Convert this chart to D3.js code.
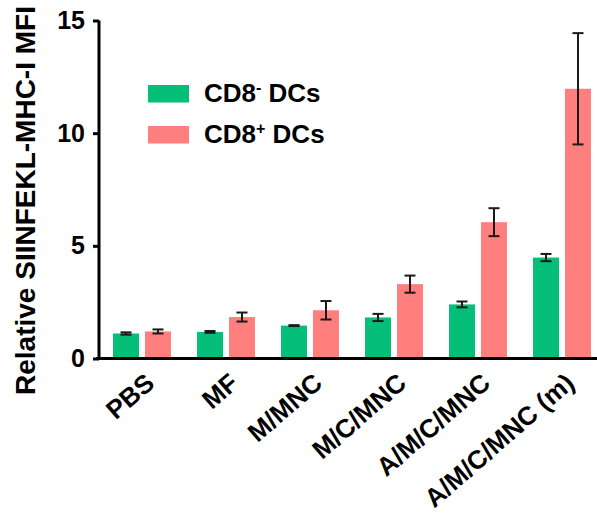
<!DOCTYPE html>
<html>
<head>
<meta charset="utf-8">
<script src="https://cdn.jsdelivr.net/npm/d3@7"></script>
<style>
  html, body { margin: 0; padding: 0; background: #fff; }
  svg { display: block; font-family: Arial, "Liberation Sans", sans-serif; }
</style>
</head>
<body>
<svg id="chart" width="597" height="527"></svg>
<script>
const categories = ["PBS", "MF", "M/MNC", "M/C/MNC", "A/M/C/MNC", "A/M/C/MNC (m)"];
const seriesNames = ["CD8- DCs", "CD8+ DCs"];
const cd8negValues = [1.11, 1.18, 1.46, 1.82, 2.40, 4.48];
const cd8negErrors = [0.05, 0.04, 0.02, 0.16, 0.13, 0.16];
const cd8posValues = [1.20, 1.84, 2.14, 3.30, 6.05, 11.97];
const cd8posErrors = [0.09, 0.20, 0.41, 0.38, 0.62, 2.47];
const yTicks = [0, 5, 10, 15];

const colors = ["#05BE78", "#FF7F7F"];
const series = [
  { name: seriesNames[0], values: cd8negValues, errors: cd8negErrors, color: colors[0] },
  { name: seriesNames[1], values: cd8posValues, errors: cd8posErrors, color: colors[1] }
];

const svg = d3.select("#chart");
const y = d3.scaleLinear().domain([0, 15]).range([358.5, 20.5]);
const x0 = d3.scaleBand().domain(categories).range([100, 604]).paddingInner(0.31).paddingOuter(0.155);
const x1 = d3.scaleBand().domain(seriesNames).range([0, x0.bandwidth()]).paddingInner(0.1875);

// bars
series.forEach((s, si) => {
  const g = svg.append("g");
  g.selectAll("rect").data(categories).join("rect")
    .attr("x", c => x0(c) + x1(s.name))
    .attr("y", (c, i) => y(s.values[i]))
    .attr("width", x1.bandwidth())
    .attr("height", (c, i) => y(0) - y(s.values[i]))
    .attr("fill", s.color);
  // error bars
  const eg = svg.append("g").attr("stroke", "#1a1a1a").attr("stroke-width", 2).attr("fill", "none");
  categories.forEach((c, i) => {
    const cx = x0(c) + x1(s.name) + x1.bandwidth() / 2;
    const hi = y(s.values[i] + s.errors[i]);
    const lo = y(s.values[i] - s.errors[i]);
    eg.append("line").attr("x1", cx).attr("x2", cx).attr("y1", hi).attr("y2", lo);
    eg.append("line").attr("x1", cx - 5.5).attr("x2", cx + 5.5).attr("y1", hi).attr("y2", hi);
    eg.append("line").attr("x1", cx - 5.5).attr("x2", cx + 5.5).attr("y1", lo).attr("y2", lo);
  });
});

// y axis
const yAxis = d3.axisLeft(y).tickValues(yTicks).tickSize(6).tickPadding(8);
const yg = svg.append("g").attr("transform", "translate(99,0)").call(yAxis);
yg.select(".domain").attr("stroke", "#000").attr("stroke-width", 3).attr("d", `M0,${y(15)}V${y(0)}`);
yg.selectAll(".tick line").attr("stroke", "#000").attr("stroke-width", 3);
yg.selectAll(".tick text").attr("font-size", 25).attr("font-weight", "bold").attr("fill", "#000")
  .attr("font-family", "Arial, 'Liberation Sans', sans-serif");

// x axis
const xAxis = d3.axisBottom(x0).tickSize(0).tickPadding(0);
const xg = svg.append("g").attr("transform", `translate(0,${y(0)})`).call(xAxis);
xg.select(".domain").attr("stroke", "#000").attr("stroke-width", 3).attr("d", `M96,0H597`);
xg.selectAll(".tick text")
  .attr("font-size", 26).attr("font-weight", "bold").attr("fill", "#000")
  .attr("font-family", "Arial, 'Liberation Sans', sans-serif")
  .attr("text-anchor", "end")
  .attr("dy", "0")
  .attr("y", 0)
  .attr("transform", "translate(14,27) rotate(-41)");

// y label
svg.append("text")
  .attr("transform", "translate(35,200.5) rotate(-90)")
  .attr("text-anchor", "middle")
  .attr("font-size", 28).attr("font-weight", "bold").attr("fill", "#000")
  .text("Relative SIINFEKL-MHC-I MFI");

// legend
const legendY = [85, 126];
series.forEach((s, i) => {
  svg.append("rect").attr("x", 148).attr("y", legendY[i]).attr("width", 41).attr("height", 17.5).attr("fill", s.color);
  const t = svg.append("text").attr("x", 204).attr("y", legendY[i] + 17)
    .attr("font-size", 26).attr("font-weight", "bold").attr("fill", "#000");
  t.append("tspan").text("CD8");
  t.append("tspan").attr("font-size", 16).attr("dy", -9).text(i === 0 ? "-" : "+");
  t.append("tspan").attr("dy", 9).text(" DCs");
});
</script>
</body>
</html>
